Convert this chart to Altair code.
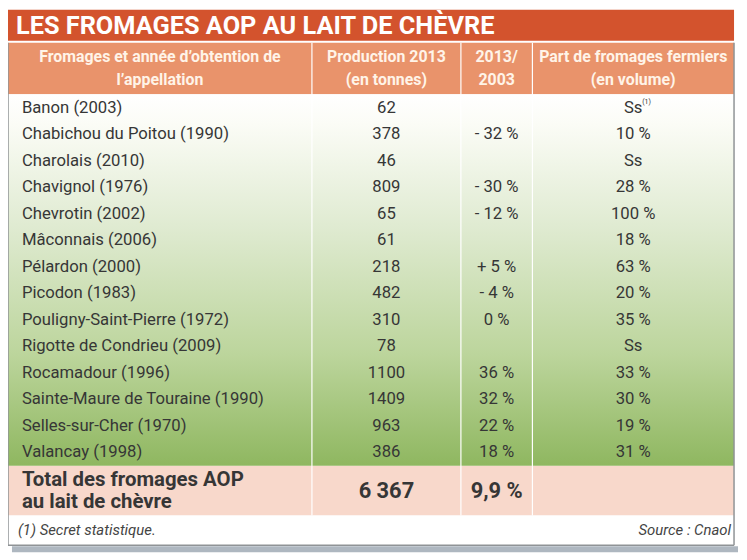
import altair as alt
import pandas as pd

# ---------------- data ----------------
title = "LES FROMAGES AOP AU LAIT DE CHÈVRE"
headers = [
    ["Fromages et année d’obtention de", "l’appellation"],
    ["Production 2013", "(en tonnes)"],
    ["2013/", "2003"],
    ["Part de fromages fermiers", "(en volume)"],
]
names = ["Banon (2003)", "Chabichou du Poitou (1990)", "Charolais (2010)", "Chavignol (1976)",
         "Chevrotin (2002)", "Mâconnais (2006)", "Pélardon (2000)", "Picodon (1983)",
         "Pouligny-Saint-Pierre (1972)", "Rigotte de Condrieu (2009)", "Rocamadour (1996)",
         "Sainte-Maure de Touraine (1990)", "Selles-sur-Cher (1970)", "Valancay (1998)"]
production = ["62", "378", "46", "809", "65", "61", "218", "482", "310", "78", "1100", "1409", "963", "386"]
evolution = ["", "- 32 %", "", "- 30 %", "- 12 %", "", "+ 5 %", "- 4 %", "0 %", "", "36 %", "32 %", "22 %", "18 %"]
part = ["Ss", "10 %", "Ss", "28 %", "100 %", "18 %", "63 %", "20 %", "35 %", "Ss", "33 %", "30 %", "19 %", "31 %"]
part_note = ["(1)", "", "", "", "", "", "", "", "", "", "", "", "", ""]
total_label = ["Total des fromages AOP", "au lait de chèvre"]
total_values = ["6 367", "9,9 %", ""]
footnote = "(1) Secret statistique."
source = "Source : Cnaol"

# ---------------- layout (pixels in chart coords) ----------------
W, H = 736, 548
LEFT, RIGHT = 0, 731
TITLE_Y = (0, 31)
HEAD_Y = (33, 85)
BODY_Y = (85, 459)
TOTAL_Y = (459, 509)
FOOT_Y = (509, 539)
COL_EDGES = [LEFT, 306, 456, 528, RIGHT]
ROW_H = (BODY_Y[1] - BODY_Y[0]) / len(names)
FONT = "Roboto"
TXT = "#363636"

col_center = [(COL_EDGES[i] + COL_EDGES[i + 1]) / 2 for i in range(4)]

X = lambda f="x": alt.X(f"{f}:Q", scale=alt.Scale(domain=[0, W], nice=False, zero=False), axis=None)
Y = lambda f="y": alt.Y(f"{f}:Q", scale=alt.Scale(domain=[0, H], nice=False, zero=False, reverse=True), axis=None)

# background blocks
blocks = pd.DataFrame([
    dict(x=LEFT + 4, x2=RIGHT + 4, y=FOOT_Y[1] + 1, y2=FOOT_Y[1] + 7, c="#aeb7c0"),   # shadow
    dict(x=LEFT, x2=RIGHT, y=TITLE_Y[0], y2=TITLE_Y[1], c="#d3532d"),
    dict(x=LEFT, x2=RIGHT, y=HEAD_Y[0], y2=HEAD_Y[1], c="#e9936b"),
    dict(x=LEFT, x2=RIGHT, y=TOTAL_Y[0], y2=TOTAL_Y[1], c="#f8d8cb"),
    dict(x=LEFT, x2=RIGHT, y=FOOT_Y[0], y2=FOOT_Y[1], c="#ffffff"),
])
bg = alt.Chart(blocks).mark_rect().encode(
    x=X(), x2="x2", y=Y(), y2="y2", color=alt.Color("c:N", scale=None))

body = alt.Chart(pd.DataFrame([dict(x=LEFT, x2=RIGHT, y=BODY_Y[0], y2=BODY_Y[1])])).mark_rect(
    fill={"gradient": "linear", "x1": 0, "y1": 0, "x2": 0, "y2": 1,
          "stops": [{"offset": 0, "color": "#ffffff"},
                    {"offset": 0.08, "color": "#fbfcf6"},
                    {"offset": 0.35, "color": "#e0ebd2"},
                    {"offset": 0.7, "color": "#bcd59c"},
                    {"offset": 1, "color": "#8fb760"}]}
).encode(x=X(), x2="x2", y=Y(), y2="y2")

# column dividers
div = pd.DataFrame([dict(x=e, y=HEAD_Y[0], y2=TOTAL_Y[1]) for e in COL_EDGES[1:-1]])
dividers = alt.Chart(div).mark_rule(color="#ffffff", strokeWidth=1.2).encode(x=X(), y=Y(), y2="y2")

# outer border
border = pd.DataFrame([
    dict(x=LEFT, x2=LEFT, y=HEAD_Y[0], y2=FOOT_Y[1]),
    dict(x=RIGHT, x2=RIGHT, y=HEAD_Y[0], y2=FOOT_Y[1]),
    dict(x=LEFT, x2=RIGHT, y=FOOT_Y[1], y2=FOOT_Y[1]),
])
borders = alt.Chart(border).mark_rule(color="#8f9396", strokeWidth=1.5).encode(
    x=X(), x2="x2", y=Y(), y2="y2")

# title
title_l = alt.Chart(pd.DataFrame([dict(x=LEFT + 8, y=(TITLE_Y[0] + TITLE_Y[1]) / 2 + 1, t=title)])).mark_text(
    align="left", baseline="middle", font=FONT, fontSize=25.5, fontWeight="bold", color="#ffffff"
).encode(x=X(), y=Y(), text="t:N")

# headers
hrows = []
for i, lines in enumerate(headers):
    for j, line in enumerate(lines):
        hrows.append(dict(x=col_center[i], y=HEAD_Y[0] + 14 + j * 24, t=line))
head_l = alt.Chart(pd.DataFrame(hrows)).mark_text(
    align="center", baseline="middle", font=FONT, fontSize=16, fontWeight="bold", color="#fff4e8"
).encode(x=X(), y=Y(), text="t:N")

# body
rows = []
for i in range(len(names)):
    yc = BODY_Y[0] + (i + 0.5) * ROW_H
    rows.append(dict(x=LEFT + 14, y=yc, t=names[i], a="left"))
    rows.append(dict(x=col_center[1], y=yc, t=production[i], a="center"))
    rows.append(dict(x=col_center[2], y=yc, t=evolution[i], a="center"))
    rows.append(dict(x=col_center[3], y=yc, t=part[i], a="center"))
rdf = pd.DataFrame(rows)
body_left = alt.Chart(rdf[rdf.a == "left"]).mark_text(
    align="left", baseline="middle", font=FONT, fontSize=16.8, color=TXT
).encode(x=X(), y=Y(), text="t:N")
body_center = alt.Chart(rdf[rdf.a == "center"]).mark_text(
    align="center", baseline="middle", font=FONT, fontSize=16.8, color=TXT
).encode(x=X(), y=Y(), text="t:N")

notes = pd.DataFrame([dict(x=col_center[3], y=BODY_Y[0] + (i + 0.5) * ROW_H, t=n)
                      for i, n in enumerate(part_note) if n])
note_l = alt.Chart(notes).mark_text(
    align="left", baseline="middle", font=FONT, fontSize=7, color=TXT, dx=9, dy=-6
).encode(x=X(), y=Y(), text="t:N")

# total row
trows = [dict(x=LEFT + 14, y=TOTAL_Y[0] + 14 + j * 23, t=l, a="left") for j, l in enumerate(total_label)]
trows += [dict(x=col_center[k + 1], y=(TOTAL_Y[0] + TOTAL_Y[1]) / 2, t=v, a="center")
          for k, v in enumerate(total_values) if v]
tdf = pd.DataFrame(trows)
tot_left = alt.Chart(tdf[tdf.a == "left"]).mark_text(
    align="left", baseline="middle", font=FONT, fontSize=20.5, fontWeight="bold", color=TXT
).encode(x=X(), y=Y(), text="t:N")
tot_center = alt.Chart(tdf[tdf.a == "center"]).mark_text(
    align="center", baseline="middle", font=FONT, fontSize=22, fontWeight="bold", color=TXT
).encode(x=X(), y=Y(), text="t:N")

# footnote
fy = (FOOT_Y[0] + FOOT_Y[1]) / 2
foot_l = alt.Chart(pd.DataFrame([dict(x=LEFT + 10, y=fy, t=footnote)])).mark_text(
    align="left", baseline="middle", font=FONT, fontSize=15, fontStyle="italic", color="#444444"
).encode(x=X(), y=Y(), text="t:N")
foot_r = alt.Chart(pd.DataFrame([dict(x=RIGHT - 3, y=fy, t=source)])).mark_text(
    align="right", baseline="middle", font=FONT, fontSize=15, fontStyle="italic", color="#444444"
).encode(x=X(), y=Y(), text="t:N")

chart = alt.layer(
    bg, body, dividers, borders, title_l, head_l, body_left, body_center, note_l,
    tot_left, tot_center, foot_l, foot_r
).properties(
    width=W, height=H, padding=0, autosize=alt.AutoSizeParams(type="none"), background="#ffffff"
).configure_view(stroke=None)

chart.save("out.html", embed_options={"renderer": "svg", "actions": False})
